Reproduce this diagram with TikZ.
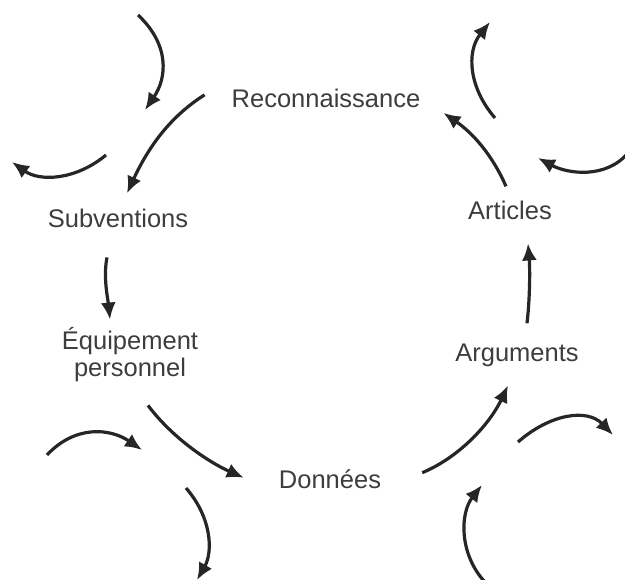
\documentclass[tikz,border=0pt]{standalone}
\usepackage{fontspec}
\setmainfont{Liberation Sans}
\usetikzlibrary{calc,arrows.meta}
\definecolor{ink}{HTML}{262626}
\definecolor{textgray}{HTML}{3D3D3D}
\tikzset{line/.style={draw=ink, line width=3.2pt, -{Latex[length=17pt,width=15pt]}}}

\begin{document}
\begin{tikzpicture}[x=1pt,y=-1pt]
\tikzstyle{factor} = [text=textgray, inner sep=0pt, anchor=base, font=\fontsize{25.5}{27}\selectfont]
\useasboundingbox (0,0) rectangle (625,580);

% nodes
    \node [factor] (reco) at (326,108) {Reconnaissance};
    \node [factor] (subv) at (118,228) {Subventions};
    \node [factor, anchor=center, align=center] (equip) at (130,355) {Équipement\\personnel};
    \node [factor] (donnees) at (330,489) {Données};
    \node [factor] (args) at (517,362) {Arguments};
    \node [factor] (articles) at (510,220) {Articles};
    % outside ends
    \coordinate (in1 start) at (138,15);
    \coordinate (in1 end) at (145,110);
    \coordinate (out1 start) at (106,155);
    \coordinate (out1 end) at (12,162);
    \coordinate (in2 start) at (47,455);
    \coordinate (in2 end) at (142,450);
    \coordinate (out2 start) at (186,488);
    \coordinate (out2 end) at (197,580);
    \coordinate (out3 start) at (518,442);
    \coordinate (out3 end) at (613,435);
    \coordinate (in3 start) at (484,581);
    \coordinate (in3 end) at (482,485);
    \coordinate (out4 start) at (495,118);
    \coordinate (out4 end) at (490,22);
    \coordinate (in4 start) at (628,153);
    \coordinate (in4 end) at (538,158);

% arrows
    % cycle
    \path [line] ($(reco.west)+(-27,-4)$) .. controls +(-38,24) and +(19,-41) .. ($(subv.north)+(9,-16)$);
    \path [line] ($(subv.south)+(-11,29)$) .. controls +(-4,20) and +(-2,-20) .. ($(equip.north)+(-20,-8)$);
    \path [line] ($(equip.south)+(18,23)$) .. controls +(24,32) and +(-36,-16) .. ($(donnees.west)+(-35,-2)$);
    \path [line] ($(donnees.east)+(41,-7)$) .. controls +(40,-17) and +(-17,36) .. ($(args.south)+(-9,18)$);
    \path [line] ($(args.north)+(10,-21)$) .. controls +(3,-25) and +(2,25) .. ($(articles.south)+(18,23)$);
    \path [line] ($(articles.north)+(-4,-15)$) .. controls +(-14,-32) and +(29,20) .. ($(reco.east)+(23,14)$);
    % outside
    \path [line] (in1 start) .. controls +(32,30) and +(22,-32) .. (in1 end);
    \path [line] (out1 start) .. controls +(-30,25) and +(28,20) .. (out1 end);
    \path [line] (in2 start) .. controls +(28,-30) and +(-32,-22) .. (in2 end);
    \path [line] (out2 start) .. controls +(26,30) and +(16,-28) .. (out2 end);
    \path [line] (out3 start) .. controls +(32,-28) and +(-26,-27) .. (out3 end);
    \path [line] (in3 start) .. controls +(-25,-28) and +(-22,28) .. (in3 end);
    \path [line] (out4 start) .. controls +(-26,-30) and +(-24,30) .. (out4 end);
    \path [line] (in4 start) .. controls +(-22,26) and +(30,16) .. (in4 end);
\end{tikzpicture}
\end{document}
